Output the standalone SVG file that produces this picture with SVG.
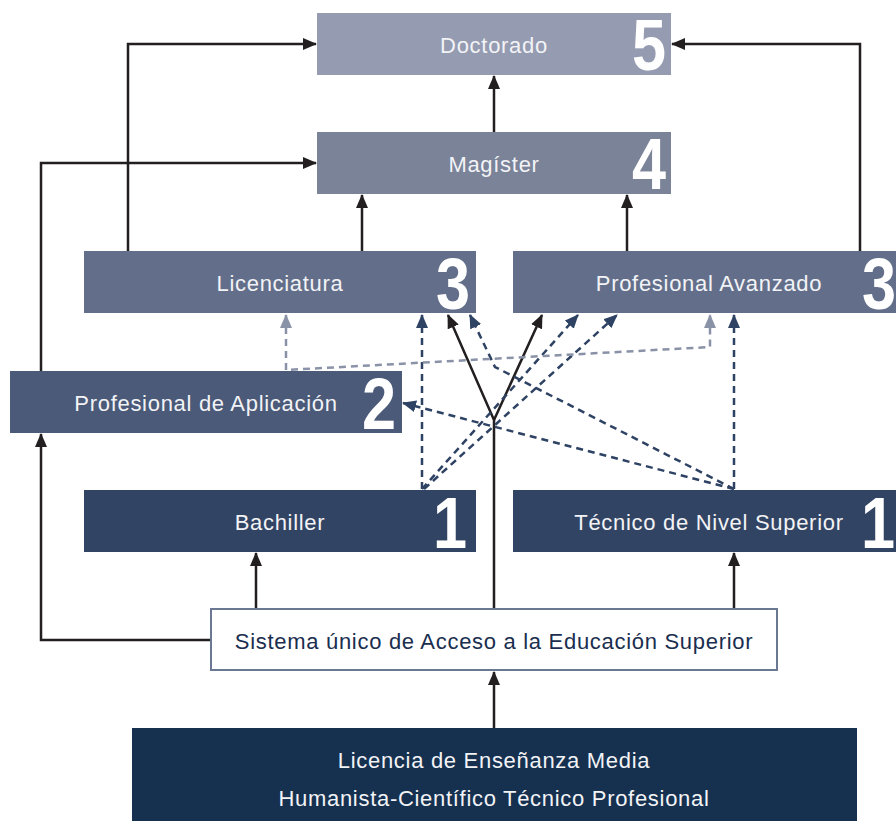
<svg xmlns="http://www.w3.org/2000/svg" width="896" height="821" viewBox="0 0 896 821">
<defs>
<style>
.lbl{font-family:"Liberation Sans",Arial,sans-serif;font-size:22px;letter-spacing:0.7px;fill:#f2f3f6;text-anchor:middle}
.num{font-family:"Liberation Sans",Arial,sans-serif;font-size:72px;font-weight:bold;fill:#ffffff;text-anchor:end}
.solid{fill:none;stroke:#231f20;stroke-width:2.5}
.dash{fill:none;stroke:#2e4263;stroke-width:2.5;stroke-dasharray:7 5}
.gdash{fill:none;stroke:#8a92a8;stroke-width:2.5;stroke-dasharray:7 5}
</style>
<marker id="ab" viewBox="0 0 14 12" refX="13" refY="6" markerWidth="14" markerHeight="12" markerUnits="userSpaceOnUse" orient="auto"><path d="M0,0 L14,6 L0,12 z" fill="#231f20"/></marker>
<marker id="ad" viewBox="0 0 14 12" refX="13" refY="6" markerWidth="14" markerHeight="12" markerUnits="userSpaceOnUse" orient="auto"><path d="M0,0 L14,6 L0,12 z" fill="#2e4263"/></marker>
<marker id="ag" viewBox="0 0 14 12" refX="13" refY="6" markerWidth="14" markerHeight="12" markerUnits="userSpaceOnUse" orient="auto-start-reverse"><path d="M0,0 L14,6 L0,12 z" fill="#8a92a8"/></marker>
</defs>
<rect width="896" height="821" fill="#ffffff"/>

<g id="connectors">
<path class="solid" d="M128,251 V44 H316" marker-end="url(#ab)"/>
<path class="solid" d="M41,371 V163 H316" marker-end="url(#ab)"/>
<path class="solid" d="M860,251 V44 H672" marker-end="url(#ab)"/>
<path class="solid" d="M494,132 V76" marker-end="url(#ab)"/>
<path class="solid" d="M362,251 V195" marker-end="url(#ab)"/>
<path class="solid" d="M627,251 V195" marker-end="url(#ab)"/>
<path class="solid" d="M256,608 V553" marker-end="url(#ab)"/>
<path class="solid" d="M734,608 V553" marker-end="url(#ab)"/>
<path class="solid" d="M210,640 H41 V434" marker-end="url(#ab)"/>
<path class="solid" d="M494,728 V672" marker-end="url(#ab)"/>
<path class="solid" d="M494,608 V420 L448,315" marker-end="url(#ab)"/>
<path class="solid" d="M494,420 L542,315" marker-end="url(#ab)"/>
<path class="dash" d="M422,489 V315" marker-end="url(#ad)"/>
<path class="dash" d="M422,489 L578,315" marker-end="url(#ad)"/>
<path class="dash" d="M424,489 L617,315" marker-end="url(#ad)"/>
<path class="dash" d="M734,489 V315" marker-end="url(#ad)"/>
<path class="dash" d="M734,489 L495,367 L470,315" marker-end="url(#ad)"/>
<path class="dash" d="M734,489 L403,403" marker-end="url(#ad)"/>
<path class="gdash" d="M286,315 V370 L710,347 V315" marker-start="url(#ag)" marker-end="url(#ag)"/>
</g>

<g id="doctorado">
<rect x="317" y="13" width="354" height="62" fill="#959bb0"/>
<text class="lbl" x="494" y="53">Doctorado</text>
<text class="num" transform="translate(666,70) scale(0.85,1)">5</text>
</g>
<g id="magister">
<rect x="317" y="132" width="354" height="62" fill="#7b8399"/>
<text class="lbl" x="494" y="172">Magíster</text>
<text class="num" transform="translate(666,189) scale(0.85,1)">4</text>
</g>
<g id="licenciatura">
<rect x="84" y="251" width="392" height="62" fill="#636f8a"/>
<text class="lbl" x="280" y="291">Licenciatura</text>
<text class="num" transform="translate(470,309) scale(0.85,1)">3</text>
</g>
<g id="profesional-avanzado">
<rect x="513" y="251" width="392" height="62" fill="#636f8a"/>
<text class="lbl" x="709" y="291">Profesional Avanzado</text>
<text class="num" transform="translate(896,309) scale(0.85,1)">3</text>
</g>
<g id="profesional-aplicacion">
<rect x="10" y="371" width="392" height="62" fill="#4a5a78"/>
<text class="lbl" x="206" y="411">Profesional de Aplicación</text>
<text class="num" transform="translate(396,429) scale(0.85,1)">2</text>
</g>
<g id="bachiller">
<rect x="84" y="490" width="392" height="62" fill="#324463"/>
<text class="lbl" x="280" y="530">Bachiller</text>
<text class="num" transform="translate(467,548) scale(0.85,1)">1</text>
</g>
<g id="tecnico">
<rect x="513" y="490" width="392" height="62" fill="#324463"/>
<text class="lbl" x="709" y="530">Técnico de Nivel Superior</text>
<text class="num" transform="translate(895,548) scale(0.85,1)">1</text>
</g>
<g id="sistema">
<rect x="211" y="609" width="566" height="61" fill="#ffffff" stroke="#6b7893" stroke-width="2"/>
<text class="lbl" x="494" y="649" style="fill:#1a2e4f">Sistema único de Acceso a la Educación Superior</text>
</g>
<g id="licencia">
<rect x="132" y="728" width="725" height="93" fill="#16304f"/>
<text class="lbl" x="494" y="768">Licencia de Enseñanza Media</text>
<text class="lbl" x="494" y="806">Humanista-Científico Técnico Profesional</text>
</g>
</svg>
